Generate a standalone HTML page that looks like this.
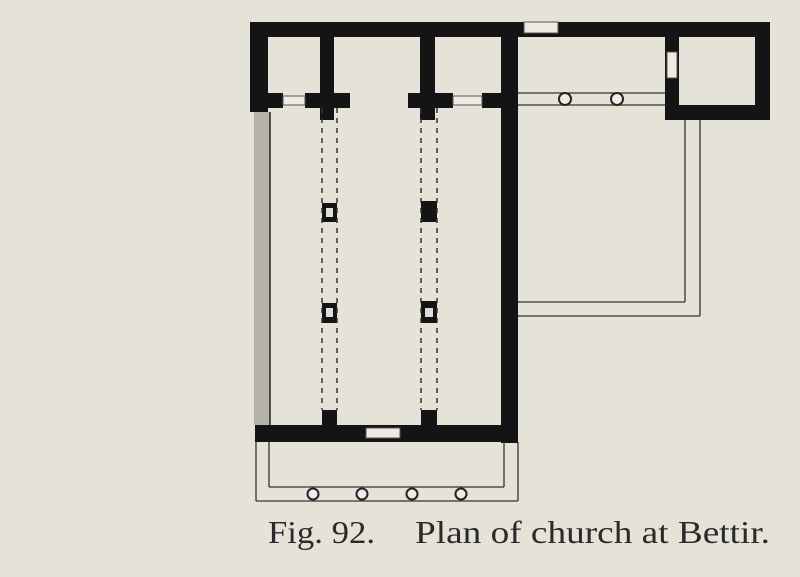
<!DOCTYPE html>
<html><head><meta charset="utf-8"><style>
html,body{margin:0;padding:0;background:#e5e2d8;}
svg{display:block;}
</style></head><body>
<svg width="800" height="577" viewBox="0 0 800 577" xmlns="http://www.w3.org/2000/svg">
<rect width="800" height="577" fill="#e5e2d8"/>
<g fill="#141414">
<rect x="250" y="22" width="520" height="15"/>
<rect x="250" y="22" width="18" height="90"/>
<rect x="501" y="22" width="17" height="421"/>
<rect x="255" y="425" width="263" height="17"/>
<rect x="320" y="37" width="14" height="83"/>
<rect x="420" y="37" width="15" height="83"/>
<rect x="250" y="93" width="33" height="15"/>
<rect x="305" y="93" width="45" height="15"/>
<rect x="408" y="93" width="45" height="15"/>
<rect x="482" y="93" width="20" height="15"/>
<rect x="755" y="22" width="15" height="98"/>
<rect x="665" y="105" width="105" height="15"/>
<rect x="665" y="22" width="14" height="98"/>
<rect x="322" y="203" width="15" height="19"/>
<rect x="421" y="201" width="16" height="21"/>
<rect x="322" y="303" width="15" height="20"/>
<rect x="421" y="301" width="16" height="22"/>
<rect x="322" y="410" width="15" height="16"/>
<rect x="421" y="410" width="16" height="16"/>
</g>
<g fill="#ecebe4" stroke="#555" stroke-width="1">
<rect x="524" y="22" width="34" height="11"/>
<rect x="366" y="428" width="34" height="10"/>
<rect x="667" y="52" width="10" height="26"/>
<rect x="283" y="96" width="22" height="9"/>
<rect x="453" y="96" width="29" height="9"/>
</g>
<rect x="254" y="112" width="16" height="313" fill="#b5b2aa"/>
<line x1="270" y1="112" x2="270" y2="425" stroke="#222" stroke-width="1.5"/>
<g fill="#ddd"><rect x="326" y="208" width="7" height="9"/><rect x="326" y="308" width="7" height="9"/><rect x="425" y="308" width="8" height="9"/></g>
<g stroke="#333" stroke-width="1.5" stroke-dasharray="5,5" fill="none">
<line x1="322" y1="108" x2="322" y2="410"/><line x1="337" y1="108" x2="337" y2="410"/>
<line x1="421" y1="108" x2="421" y2="410"/><line x1="437" y1="108" x2="437" y2="410"/>
</g>
<g stroke="#333" stroke-width="1.3" fill="none">
<line x1="518" y1="93" x2="665" y2="93"/><line x1="518" y1="105" x2="665" y2="105"/>
<line x1="685" y1="120" x2="685" y2="302"/><line x1="700" y1="120" x2="700" y2="316"/>
<line x1="518" y1="302" x2="685" y2="302"/><line x1="518" y1="316" x2="700" y2="316"/>
<line x1="256" y1="442" x2="256" y2="501"/><line x1="269" y1="442" x2="269" y2="487"/>
<line x1="504" y1="442" x2="504" y2="487"/><line x1="518" y1="442" x2="518" y2="501"/>
<line x1="269" y1="487" x2="504" y2="487"/><line x1="256" y1="501" x2="518" y2="501"/>
</g>
<g stroke="#222" stroke-width="2" fill="#eeece6">
<circle cx="565" cy="99" r="6"/><circle cx="617" cy="99" r="6"/>
<circle cx="313" cy="494" r="5.5"/><circle cx="362" cy="494" r="5.5"/><circle cx="412" cy="494" r="5.5"/><circle cx="461" cy="494" r="5.5"/>
</g>
<text x="268" y="543" font-family="Liberation Serif, serif" font-size="32" fill="#2a2a2a" textLength="107" lengthAdjust="spacingAndGlyphs">Fig. 92.</text>
<text x="415" y="543" font-family="Liberation Serif, serif" font-size="32" fill="#2a2a2a" textLength="355" lengthAdjust="spacingAndGlyphs">Plan of church at Bettir.</text>
</svg>
</body></html>
